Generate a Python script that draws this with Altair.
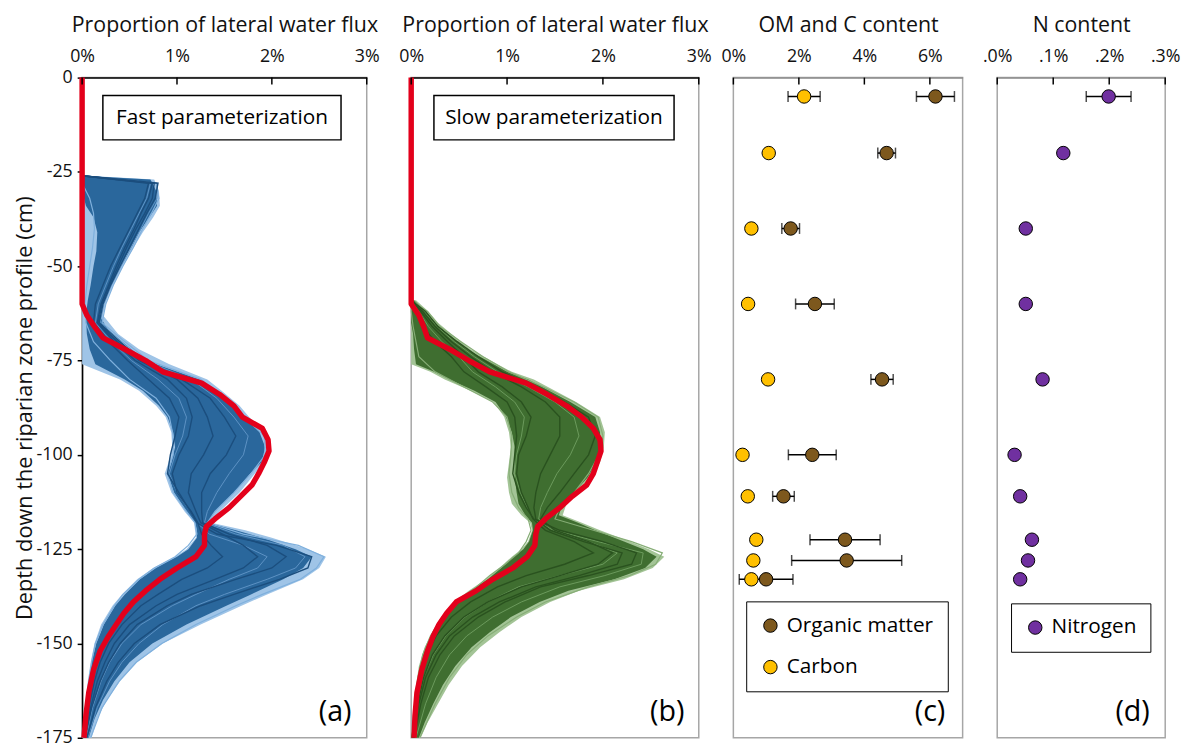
import altair as alt
import pandas as pd

FONT = "Open Sans"

# ---------------------------------------------------------------- data
# red reference profile drawn over both ensembles (depth in cm, flux in %)
red_depth = [0, -60, -63, -66, -69, -72, -75, -78, -81, -84, -87, -90, -93, -96, -99, -102, -105, -108, -111, -114,
             -117, -119, -121, -124, -127, -130, -133, -136, -139, -142, -145, -148, -152, -157, -163, -169, -175]
red_fast = [0, 0, 0.05, 0.13, 0.22, 0.45, 0.67, 0.85, 1.26, 1.45, 1.60, 1.69, 1.90, 1.96, 1.97, 1.92, 1.86, 1.79, 1.67, 1.55,
            1.40, 1.31, 1.29, 1.29, 1.20, 1.00, 0.82, 0.67, 0.54, 0.44, 0.36, 0.28, 0.19, 0.12, 0.07, 0.04, 0.02]
red_slow = [0, 0, 0.08, 0.13, 0.17, 0.40, 0.60, 0.82, 1.20, 1.42, 1.62, 1.78, 1.90, 1.97, 1.98, 1.94, 1.90, 1.83, 1.68, 1.55,
            1.40, 1.32, 1.30, 1.29, 1.21, 1.06, 0.85, 0.68, 0.47, 0.37, 0.29, 0.23, 0.17, 0.11, 0.06, 0.04, 0.03]

# fast parameterization ensemble: spread of the runs (outer) and dense core
fast_env_depth = [-26, -27, -30, -34, -37, -41, -46, -50, -55, -59, -63, -68, -72, -76, -80, -83, -87, -90, -94, -98,
                  -102, -105, -110, -115, -118, -120, -122, -125, -127, -130, -133, -137, -140, -145, -150, -155, -160,
                  -165, -170, -175]
fast_outer_lo = [0, 0, 0, 0, 0, 0, 0, 0, 0, 0, 0, 0, 0, 0, 0.40, 0.60, 0.78, 0.88, 0.94, 0.95,
                 0.91, 0.87, 0.94, 1.08, 1.18, 1.19, 1.20, 1.10, 0.98, 0.75, 0.58, 0.42, 0.32, 0.20, 0.13, 0.09, 0.06,
                 0.04, 0.02, 0.0]
fast_outer_hi = [0.05, 0.76, 0.81, 0.82, 0.75, 0.64, 0.52, 0.43, 0.33, 0.26, 0.22, 0.38, 0.60, 0.92, 1.32, 1.47, 1.66, 1.76,
                 1.92, 1.97, 1.93, 1.82, 1.66, 1.45, 1.36, 1.72, 2.00, 2.38, 2.57, 2.50, 2.33, 1.95, 1.68, 1.25, 0.85,
                 0.58, 0.40, 0.26, 0.16, 0.10]
fast_core_lo = [0, 0, 0, 0.04, 0.12, 0.16, 0.15, 0.12, 0.09, 0.06, 0.04, 0.05, 0.08, 0.14, 0.45, 0.64, 0.81, 0.90, 0.96,
                0.98, 0.94, 0.90, 0.97, 1.10, 1.19, 1.21, 1.21, 1.12, 1.00, 0.78, 0.61, 0.45, 0.35, 0.23, 0.15, 0.10,
                0.07, 0.05, 0.03, 0.01]
fast_core_hi = [0.0, 0.72, 0.78, 0.79, 0.71, 0.60, 0.49, 0.40, 0.31, 0.24, 0.18, 0.30, 0.50, 0.78, 1.24, 1.40, 1.60, 1.70,
                1.87, 1.93, 1.89, 1.77, 1.60, 1.40, 1.32, 1.62, 1.90, 2.25, 2.42, 2.33, 2.12, 1.78, 1.52, 1.10, 0.74,
                0.50, 0.34, 0.22, 0.13, 0.07]
# a few individual fast runs
fast_run_depth = [-26, -28, -32, -36, -40, -45, -50, -55, -60, -65, -70, -75, -80, -85, -90, -95, -100, -105, -110, -115,
                  -118, -121, -124, -127, -130, -133, -137, -140, -145, -150, -155, -160, -167, -175]
fast_run_1 = [0, 0.74, 0.70, 0.62, 0.55, 0.45, 0.36, 0.28, 0.20, 0.16, 0.34, 0.56, 0.90, 1.10, 1.16, 1.12, 1.02, 0.95,
              1.00, 1.15, 1.22, 1.26, 1.36, 1.48, 1.32, 1.05, 0.80, 0.62, 0.42, 0.28, 0.19, 0.13, 0.07, 0.02]
fast_run_2 = [0, 0.80, 0.77, 0.68, 0.60, 0.50, 0.40, 0.30, 0.22, 0.18, 0.40, 0.62, 1.05, 1.35, 1.50, 1.62, 1.52, 1.35,
              1.26, 1.26, 1.27, 1.55, 1.95, 2.15, 2.00, 1.62, 1.15, 0.90, 0.58, 0.40, 0.28, 0.19, 0.10, 0.03]
fast_run_3 = [0, 0.70, 0.66, 0.58, 0.50, 0.40, 0.30, 0.22, 0.14, 0.12, 0.28, 0.48, 0.70, 0.92, 1.02, 0.98, 0.93, 0.90,
              1.02, 1.14, 1.21, 1.42, 2.05, 2.42, 2.38, 2.08, 1.60, 1.25, 0.82, 0.55, 0.38, 0.26, 0.14, 0.05]
fast_run_4 = [0, 0.78, 0.81, 0.73, 0.64, 0.54, 0.43, 0.33, 0.25, 0.21, 0.45, 0.70, 1.25, 1.50, 1.72, 1.92, 1.93, 1.78,
              1.60, 1.40, 1.32, 1.70, 2.28, 2.55, 2.47, 2.30, 1.90, 1.62, 1.20, 0.84, 0.57, 0.39, 0.21, 0.09]
fast_run_5 = [0, 0.0, 0.08, 0.12, 0.13, 0.11, 0.08, 0.05, 0.03, 0.04, 0.12, 0.30, 0.50, 0.78, 0.92, 0.96, 0.96, 0.90,
              0.96, 1.10, 1.19, 1.21, 1.12, 0.98, 0.76, 0.60, 0.43, 0.34, 0.22, 0.14, 0.10, 0.07, 0.04, 0.01]
fast_run_6 = [0, 0.76, 0.74, 0.66, 0.57, 0.47, 0.38, 0.29, 0.21, 0.17, 0.37, 0.60, 1.00, 1.22, 1.32, 1.38, 1.28, 1.15,
              1.12, 1.20, 1.25, 1.48, 1.70, 1.85, 1.70, 1.40, 1.00, 0.78, 0.50, 0.34, 0.24, 0.16, 0.09, 0.03]
fast_run_7 = [0, 0.72, 0.68, 0.60, 0.52, 0.42, 0.33, 0.25, 0.17, 0.14, 0.31, 0.52, 0.80, 1.02, 1.10, 1.06, 0.98, 0.92,
              1.00, 1.14, 1.21, 1.34, 1.70, 1.95, 1.85, 1.55, 1.20, 0.95, 0.62, 0.42, 0.29, 0.20, 0.11, 0.04]
fast_run_8 = [0, 0.79, 0.79, 0.70, 0.62, 0.52, 0.41, 0.31, 0.23, 0.19, 0.42, 0.66, 1.15, 1.42, 1.60, 1.75, 1.70, 1.55,
              1.42, 1.32, 1.29, 1.62, 2.12, 2.35, 2.25, 1.95, 1.50, 1.20, 0.85, 0.60, 0.42, 0.29, 0.16, 0.06]

# slow parameterization ensemble
slow_env_depth = [-59, -62, -65, -68, -72, -76, -78, -80, -83, -86, -90, -94, -98, -102, -106, -110, -113, -116, -118,
                  -120, -123, -125, -127, -130, -133, -136, -139, -143, -147, -151, -156, -161, -166, -171, -175]
slow_outer_lo = [0, 0, 0, 0, 0, 0, 0.20, 0.35, 0.62, 0.86, 0.97, 1.02, 1.04, 1.02, 1.00, 1.02, 1.05, 1.15, 1.24,
                 1.26, 1.22, 1.15, 1.05, 0.92, 0.78, 0.60, 0.45, 0.32, 0.22, 0.14, 0.08, 0.05, 0.03, 0.01, 0.0]
slow_outer_hi = [0.05, 0.18, 0.28, 0.42, 0.62, 0.90, 1.05, 1.28, 1.50, 1.72, 1.97, 2.02, 2.01, 1.97, 1.88, 1.74, 1.62,
                 1.58, 1.78, 1.97, 2.28, 2.48, 2.64, 2.52, 2.22, 1.75, 1.45, 1.15, 0.92, 0.72, 0.53, 0.39, 0.28, 0.17,
                 0.10]
slow_core_lo = [0, 0, 0, 0.02, 0.03, 0.05, 0.24, 0.40, 0.66, 0.88, 0.99, 1.05, 1.08, 1.08, 1.08, 1.10, 1.12, 1.19, 1.26,
                1.27, 1.23, 1.17, 1.07, 0.94, 0.80, 0.62, 0.47, 0.34, 0.23, 0.15, 0.09, 0.06, 0.03, 0.02, 0.0]
slow_core_hi = [0.03, 0.15, 0.25, 0.38, 0.58, 0.86, 1.00, 1.22, 1.44, 1.66, 1.92, 1.97, 1.97, 1.93, 1.84, 1.70, 1.58,
                1.54, 1.74, 1.92, 2.22, 2.42, 2.56, 2.44, 2.12, 1.64, 1.34, 1.04, 0.82, 0.63, 0.46, 0.33, 0.23, 0.14,
                0.08]
slow_run_depth = [-59, -62, -66, -70, -74, -78, -82, -86, -90, -95, -100, -105, -110, -114, -117, -120, -123, -126, -129,
                  -132, -135, -139, -143, -148, -153, -159, -166, -175]
slow_run_1 = [0, 0.10, 0.22, 0.38, 0.55, 0.70, 0.95, 1.15, 1.25, 1.20, 1.12, 1.10, 1.15, 1.22, 1.27, 1.40, 1.70, 1.90,
              1.60, 1.20, 0.90, 0.62, 0.42, 0.26, 0.16, 0.09, 0.05, 0.01]
slow_run_2 = [0, 0.05, 0.12, 0.25, 0.42, 0.55, 0.78, 1.00, 1.08, 1.10, 1.08, 1.06, 1.12, 1.20, 1.28, 1.55, 2.00, 2.35,
              2.30, 1.85, 1.35, 0.98, 0.70, 0.45, 0.30, 0.18, 0.10, 0.03]
slow_run_3 = [0, 0.15, 0.28, 0.48, 0.70, 0.95, 1.30, 1.60, 1.85, 1.92, 1.85, 1.70, 1.55, 1.42, 1.35, 1.50, 1.85, 2.10,
              1.95, 1.55, 1.15, 0.80, 0.55, 0.35, 0.22, 0.13, 0.07, 0.02]
slow_run_4 = [0, 0.17, 0.30, 0.52, 0.75, 1.02, 1.38, 1.70, 1.95, 2.00, 1.96, 1.85, 1.70, 1.55, 1.50, 1.90, 2.30, 2.62,
              2.55, 2.28, 1.85, 1.40, 1.10, 0.80, 0.58, 0.40, 0.25, 0.09]
slow_run_5 = [0, 0.0, 0.02, 0.05, 0.08, 0.25, 0.55, 0.85, 1.00, 1.05, 1.04, 1.02, 1.05, 1.12, 1.22, 1.25, 1.20, 1.12,
              0.98, 0.82, 0.68, 0.47, 0.32, 0.20, 0.12, 0.07, 0.04, 0.01]
slow_run_6 = [0, 0.12, 0.25, 0.42, 0.62, 0.85, 1.15, 1.40, 1.55, 1.55, 1.45, 1.35, 1.30, 1.28, 1.30, 1.45, 1.80, 2.20,
              2.15, 1.75, 1.30, 0.92, 0.64, 0.40, 0.26, 0.15, 0.08, 0.02]
slow_run_7 = [0, 0.08, 0.18, 0.32, 0.50, 0.64, 0.88, 1.08, 1.18, 1.15, 1.10, 1.08, 1.14, 1.21, 1.28, 1.48, 1.85, 2.15,
              2.00, 1.55, 1.12, 0.80, 0.56, 0.36, 0.23, 0.13, 0.07, 0.02]
slow_run_8 = [0, 0.14, 0.27, 0.45, 0.66, 0.90, 1.22, 1.50, 1.70, 1.75, 1.66, 1.52, 1.42, 1.35, 1.33, 1.50, 1.95, 2.42,
              2.40, 2.02, 1.55, 1.15, 0.85, 0.58, 0.40, 0.26, 0.15, 0.05]

# soil samples
sample_depth = [-5, -20, -40, -60, -80, -100, -111, -122.5, -128, -133]
om_content = [6.17, 4.68, 1.75, 2.49, 4.54, 2.41, 1.53, 3.41, 3.46, 1.00]
om_err = [0.58, 0.27, 0.27, 0.59, 0.34, 0.73, 0.33, 1.07, 1.68, 0.82]
c_content = [2.16, 1.08, 0.55, 0.45, 1.06, 0.28, 0.44, 0.70, 0.61, 0.55]
c_err = [0.49, 0, 0, 0, 0, 0, 0, 0, 0, 0]
n_content = [0.199, 0.118, 0.051, 0.051, 0.081, 0.031, 0.041, 0.062, 0.055, 0.041]
n_err = [0.040, 0, 0, 0, 0, 0, 0, 0, 0, 0]

pct_ticks = [0, 1, 2, 3]
om_ticks = [0, 2, 4, 6]
n_ticks = [0, 0.1, 0.2, 0.3]
depth_ticks = [-175, -150, -125, -100, -75, -50, -25, 0]

# ---------------------------------------------------------------- helpers
H = 668
Y_SCALE = alt.Scale(domain=[-175, 0], nice=False, zero=False)
RED = "#e3001b"
TITLE_FS = 21.6


def runs_frame(depths, runs):
    rows = []
    for name, vals in runs.items():
        for i, (d, v) in enumerate(zip(depths, vals)):
            rows.append({"run": name, "depth": d, "flux": v, "idx": i})
    return pd.DataFrame(rows)


def top_axis(values, expr, title, dom_color):
    return alt.Axis(orient="top", values=values, labelExpr=expr, title=title, ticks=False, grid=False,
                    domainColor=dom_color, domainWidth=1.5, labelPadding=12, titlePadding=12,
                    labelFlush=False, labelFontSize=18, titleFontSize=TITLE_FS)


Y_AXIS_A = alt.Axis(values=depth_ticks, labelExpr="'' + datum.value",
                    title="Depth down the riparian zone profile (cm)", grid=False,
                    domainColor="black", domainWidth=1.5, tickColor="black", tickWidth=1.5, tickSize=5,
                    labelPadding=5, titlePadding=0, labelFlush=False, labelFontSize=18, titleFontSize=22)

one = pd.DataFrame({"k": [0]})


def ensemble_panel(env_depth, olo, ohi, clo, chi, run_depth, dark_runs, mid_runs, light_runs, red_vals,
                   cols, box_text, box_x, label, width, yaxis):
    xs = alt.Scale(domain=[0, 3], nice=False, zero=False)
    xa = top_axis(pct_ticks, "format(datum.value, 'd') + '%'", "Proportion of lateral water flux", "black")

    def X(f):
        return alt.X(f"{f}:Q", scale=xs, axis=xa)

    def Y(f):
        return alt.Y(f"{f}:Q", scale=Y_SCALE, axis=yaxis)

    env = pd.DataFrame({"depth": env_depth, "olo": olo, "ohi": ohi, "clo": clo, "chi": chi})
    outer = alt.Chart(env).mark_area(orient="horizontal", color=cols["outer"], opacity=1).encode(
        y=Y("depth"), x=X("olo"), x2="ohi:Q")
    core = alt.Chart(env).mark_area(orient="horizontal", color=cols["core"], opacity=1).encode(
        y=Y("depth"), x=X("clo"), x2="chi:Q")
    layers = [outer, core]
    for runs, colr, w in ((light_runs, cols["light"], 1.2), (mid_runs, cols["mid"], 1.0),
                          (dark_runs, cols["dark"], 1.4)):
        layers.append(alt.Chart(runs_frame(run_depth, runs)).mark_line(color=colr, strokeWidth=w).encode(
            x=X("flux"), y=Y("depth"), detail="run:N", order="idx:Q"))
    red_df = pd.DataFrame({"depth": red_depth, "flux": red_vals, "idx": list(range(len(red_depth)))})
    layers.append(alt.Chart(red_df).mark_line(color=RED, strokeWidth=5.5, strokeJoin="round").encode(
        x=X("flux"), y=Y("depth"), order="idx:Q"))
    layers.append(alt.Chart(pd.DataFrame({"t": pct_ticks})).mark_rule(color="black", strokeWidth=1.5).encode(
        x=X("t"), y=alt.value(0), y2=alt.value(7)))
    layers.append(alt.Chart(one).mark_rect(fill="white", stroke="black", strokeWidth=1.5).encode(
        x=alt.value(box_x[0]), x2=alt.value(box_x[1]), y=alt.value(18), y2=alt.value(63)))
    layers.append(alt.Chart(pd.DataFrame({"t": [box_text]})).mark_text(
        font=FONT, fontSize=21, align="center", baseline="middle", color="black").encode(
        x=alt.value((box_x[0] + box_x[1]) / 2), y=alt.value(41), text="t:N"))
    layers.append(alt.Chart(pd.DataFrame({"t": [label]})).mark_text(
        font=FONT, fontSize=29, align="center", baseline="middle", color="black").encode(
        x=alt.value(width - 32), y=alt.value(642), text="t:N"))
    return alt.layer(*layers).properties(width=width, height=H)


panel_a = ensemble_panel(
    fast_env_depth, fast_outer_lo, fast_outer_hi, fast_core_lo, fast_core_hi, fast_run_depth,
    {"r1": fast_run_1, "r2": fast_run_2, "r3": fast_run_3, "r6": fast_run_6},
    {"r7": fast_run_7, "r8": fast_run_8},
    {"r4": fast_run_4, "r5": fast_run_5}, red_fast,
    {"outer": "#9fc4e7", "core": "#2a679c", "dark": "#1b4e7e", "mid": "#5d92c4", "light": "#7fb0dd"},
    "Fast parameterization", (21, 262), "(a)", 288, Y_AXIS_A)

panel_b = ensemble_panel(
    slow_env_depth, slow_outer_lo, slow_outer_hi, slow_core_lo, slow_core_hi, slow_run_depth,
    {"r1": slow_run_1, "r2": slow_run_2, "r3": slow_run_3, "r6": slow_run_6},
    {"r7": slow_run_7, "r8": slow_run_8},
    {"r4": slow_run_4, "r5": slow_run_5}, red_slow,
    {"outer": "#a3c496", "core": "#3f6e30", "dark": "#2a521f", "mid": "#6c9a5c", "light": "#86ad76"},
    "Slow parameterization", (23, 266), "(b)", 291, None)


def sample_panel(series, values, errs, colors, scale_dom, ticks_vals, expr, title, width, label, leg_xy):
    xs = alt.Scale(domain=scale_dom, nice=False, zero=False)
    xa = top_axis(ticks_vals, expr, title, "#8c8c8c")

    def X(f):
        return alt.X(f"{f}:Q", scale=xs, axis=xa)

    def Y(f):
        return alt.Y(f"{f}:Q", scale=Y_SCALE, axis=None)

    pts, bars = [], []
    for s, vals, es in zip(series, values, errs):
        for d, v, e in zip(sample_depth, vals, es):
            pts.append({"series": s, "depth": d, "val": v})
            if e > 0:
                bars.append({"series": s, "depth": d, "lo": v - e, "hi": v + e})
    pts = pd.DataFrame(pts)
    bars = pd.DataFrame(bars)
    rule = alt.Chart(bars).mark_rule(color="black", strokeWidth=1.5).encode(x=X("lo"), x2="hi:Q", y=Y("depth"))
    cap_lo = alt.Chart(bars).mark_tick(orient="vertical", color="black", size=11, thickness=1.5).encode(
        x=X("lo"), y=Y("depth"))
    cap_hi = alt.Chart(bars).mark_tick(orient="vertical", color="black", size=11, thickness=1.5).encode(
        x=X("hi"), y=Y("depth"))
    dots = alt.Chart(pts).mark_circle(size=185, opacity=1, stroke="black", strokeWidth=1).encode(
        x=X("val"), y=Y("depth"),
        color=alt.Color("series:N", scale=alt.Scale(domain=series, range=colors),
                        legend=alt.Legend(orient="none", legendX=leg_xy[0], legendY=leg_xy[1], title=None,
                                          strokeColor="black", fillColor="white", padding=14,
                                          labelFont=FONT, labelFontSize=21, labelColor="black",
                                          symbolType="circle", symbolSize=185, symbolStrokeColor="black",
                                          symbolStrokeWidth=1, symbolOpacity=1, rowPadding=20, labelOffset=6)))
    tks = alt.Chart(pd.DataFrame({"t": ticks_vals})).mark_rule(color="black", strokeWidth=1.5).encode(
        x=X("t"), y=alt.value(0), y2=alt.value(7))
    lab = alt.Chart(pd.DataFrame({"t": [label]})).mark_text(
        font=FONT, fontSize=29, align="center", baseline="middle", color="black").encode(
        x=alt.value(width - 33), y=alt.value(642), text="t:N")
    return alt.layer(rule, cap_lo, cap_hi, dots, tks, lab).properties(width=width, height=H)


panel_c = sample_panel(["Organic matter", "Carbon"], [om_content, c_content], [om_err, c_err],
                       ["#7d581d", "#ffc000"], [0, 7], om_ticks, "format(datum.value, 'd') + '%'",
                       "OM and C content", 232, "(c)", (13, 530))
panel_d = sample_panel(["Nitrogen"], [n_content], [n_err], ["#7030a0"], [0, 0.3], n_ticks,
                       "substring(format(datum.value, '.1f'), 1) + '%'", "N content", 170, "(d)", (14, 532))

right = alt.hconcat(panel_b, panel_c, panel_d, spacing=35, bounds="flush").resolve_scale(color="independent")
chart = alt.hconcat(panel_a, right, spacing=45, bounds="flush").resolve_scale(color="independent").properties(
    padding={"left": 4, "top": 1, "right": 2, "bottom": 2}, background="white"
).configure(font=FONT).configure_view(stroke="#a6a6a6", strokeWidth=1.5).configure_axis(
    labelFont=FONT, titleFont=FONT, labelColor="#111111", titleColor="#111111", titleFontWeight="normal")

chart.save("out.html", embed_options={"renderer": "svg", "actions": False})
